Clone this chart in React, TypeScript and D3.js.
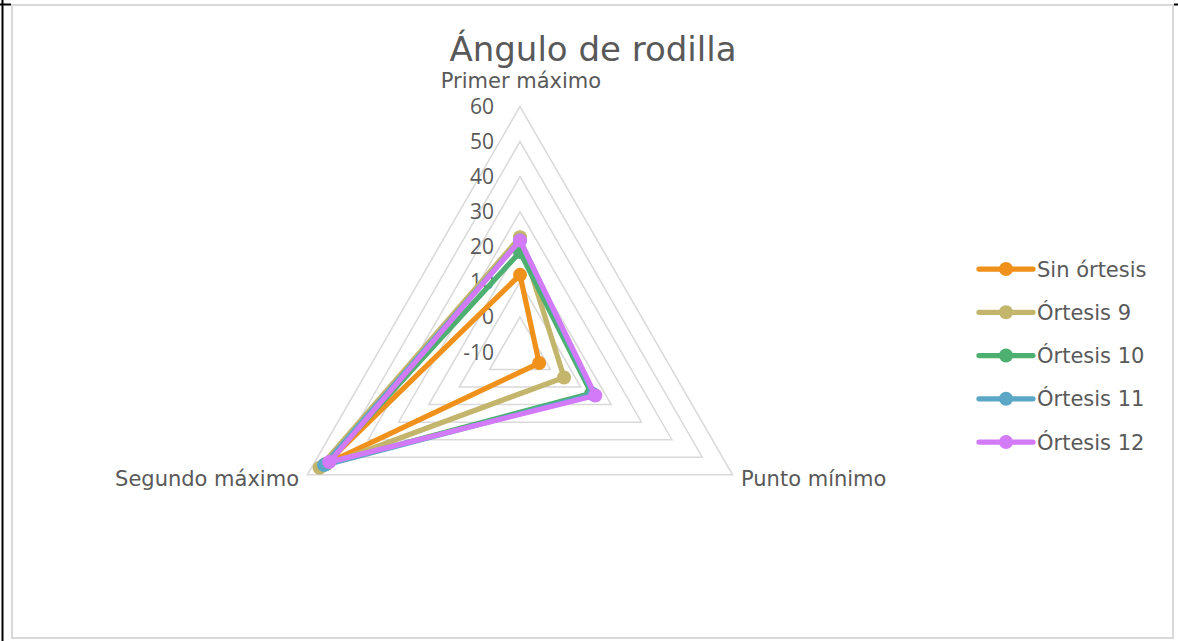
import React from "react";
import * as d3 from "d3";

const axes = ["Primer máximo", "Punto mínimo", "Segundo máximo"];
const seriesNames = ["Sin órtesis", "Órtesis 9", "Órtesis 10", "Órtesis 11", "Órtesis 12"];
const sinOrtesis = [12, -3.7, 54];
const ortesis9 = [22.7, 4.5, 56];
const ortesis10 = [18.5, 13.5, 54];
const ortesis11 = [21.8, 14.2, 54.5];
const ortesis12 = [21.8, 14.8, 52.8];
const seriesValues = [sinOrtesis, ortesis9, ortesis10, ortesis11, ortesis12];
const colors = ["#f0911b", "#c4b56c", "#4db070", "#5aa7c6", "#d27af7"];
const ticks = [-10, 0, 10, 20, 30, 40, 50, 60];

const FONT = "'DejaVu Sans', sans-serif";
const TICKFONT = "'Open Sans', sans-serif";
const TEXT = "#595959";

export default function App() {
  const W = 1178, H = 641;
  const cx = 520, cy = 352;
  const R = 245.5;
  const r = d3.scaleLinear().domain([-10, 60]).range([0, R]);
  const ang = d3.scaleLinear().domain([0, axes.length]).range([-Math.PI / 2, (3 * Math.PI) / 2]);
  const pt = (i: number, v: number): [number, number] => [
    cx + r(v) * Math.cos(ang(i)),
    cy + r(v) * Math.sin(ang(i)),
  ];
  const line = d3.line<[number, number]>().curve(d3.curveLinearClosed);

  const legendY = d3.scaleLinear().domain([0, 4]).range([269, 442]);

  const labelPos = [
    { x: 521, y: 88, anchor: "middle" },
    { x: 741, y: 486, anchor: "start" },
    { x: 299, y: 486, anchor: "end" },
  ];

  return (
    <svg width={W} height={H} style={{ position: "absolute", left: 0, top: 0 }}>
      <rect x={0} y={0} width={W} height={H} fill="#fff" />
      <rect x={12} y={5} width={1161} height={633} fill="#fff" stroke="#d9d9d9" strokeWidth={2} />
      <line x1={2.5} y1={0} x2={2.5} y2={H} stroke="#000" strokeWidth={2} />
      <line x1={0} y1={4.5} x2={11} y2={4.5} stroke="#000" strokeWidth={2} />
      <line x1={1174} y1={4.5} x2={W} y2={4.5} stroke="#000" strokeWidth={2} />

      <text x={593} y={61} textAnchor="middle" fontFamily={FONT} fontSize={34} fill={TEXT}>
        Ángulo de rodilla
      </text>

      {ticks.slice(1).map((t) => (
        <path
          key={t}
          d={line(axes.map((_, i) => pt(i, t))) || ""}
          fill="none"
          stroke="#d9d9d9"
          strokeWidth={1.5}
        />
      ))}

      {ticks.map((t) => (
        <text
          key={"l" + t}
          x={494}
          y={pt(0, t)[1] + 7.5}
          textAnchor="end"
          fontFamily={TICKFONT}
          fontSize={21}
          fill={TEXT}
        >
          {t}
        </text>
      ))}

      {axes.map((a, i) => (
        <text
          key={a}
          x={labelPos[i].x}
          y={labelPos[i].y}
          textAnchor={labelPos[i].anchor as any}
          fontFamily={FONT}
          fontSize={21}
          fill={TEXT}
        >
          {a}
        </text>
      ))}

      {seriesValues.map((vals, s) => (
        <g key={seriesNames[s]}>
          <path
            d={line(vals.map((v, i) => pt(i, v))) || ""}
            fill="none"
            stroke={colors[s]}
            strokeWidth={5.25}
            strokeLinejoin="round"
          />
          {vals.map((v, i) => {
            const [x, y] = pt(i, v);
            return <circle key={i} cx={x} cy={y} r={7} fill={colors[s]} />;
          })}
        </g>
      ))}

      {seriesNames.map((n, s) => {
        const y = legendY(s);
        return (
          <g key={"lg" + n}>
            <line x1={979} y1={y} x2={1033} y2={y} stroke={colors[s]} strokeWidth={5.25} strokeLinecap="round" />
            <circle cx={1006} cy={y} r={7} fill={colors[s]} />
            <text x={1037} y={y + 7.5} fontFamily={FONT} fontSize={21} fill={TEXT}>
              {n}
            </text>
          </g>
        );
      })}
    </svg>
  );
}
